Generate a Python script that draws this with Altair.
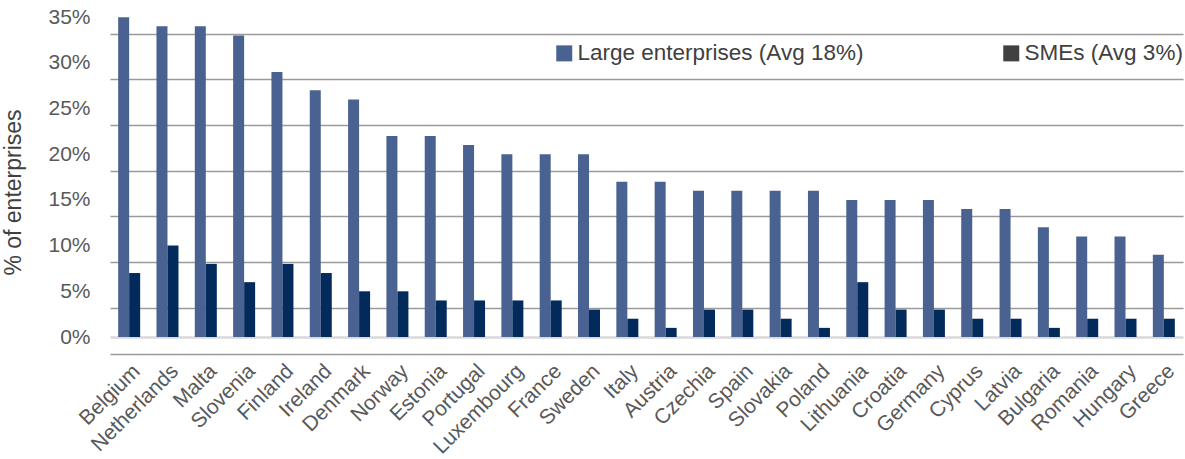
import altair as alt
import pandas as pd

countries = ["Belgium", "Netherlands", "Malta", "Slovenia", "Finland", "Ireland",
             "Denmark", "Norway", "Estonia", "Portugal", "Luxembourg", "France",
             "Sweden", "Italy", "Austria", "Czechia", "Spain", "Slovakia", "Poland",
             "Lithuania", "Croatia", "Germany", "Cyprus", "Latvia", "Bulgaria",
             "Romania", "Hungary", "Greece"]
large = [35, 34, 34, 33, 29, 27, 26, 22, 22, 21, 20, 20, 20, 17, 17, 16, 16, 16, 16,
         15, 15, 15, 14, 14, 12, 11, 11, 9]
smes = [7, 10, 8, 6, 8, 7, 5, 5, 4, 4, 4, 4, 3, 2, 1, 3, 3, 2, 1, 6, 3, 3, 2, 2, 1,
        2, 2, 2]
series = ["Large enterprises (Avg 18%)", "SMEs (Avg 3%)"]
y_ticks = [0, 0.05, 0.10, 0.15, 0.20, 0.25, 0.30, 0.35]

rows = []
for c, l, s in zip(countries, large, smes):
    rows.append({"country": c, "series": series[0], "value": l / 100})
    rows.append({"country": c, "series": series[1], "value": s / 100})
df = pd.DataFrame(rows)

FONT = "Liberation Sans"

x_enc = alt.X(
    "country:N", sort=countries, title=None,
    scale=alt.Scale(paddingInner=0.426, paddingOuter=0.213),
    axis=alt.Axis(labelAngle=-45, labelFontSize=21, labelColor="#595959",
                  labelPadding=23, domainColor="#d9d9d9", domainWidth=2.5,
                  ticks=False, labelFont=FONT),
)
y_enc = alt.Y(
    "value:Q",
    scale=alt.Scale(domain=[0, 0.36], nice=False),
    axis=alt.Axis(values=y_ticks, format=".0%", tickOffset=16.5, labelOffset=-16.5,
                  grid=True, gridColor="#9a9a9a", gridWidth=1.5, domain=False,
                  ticks=False, labelPadding=20, labelFontSize=21,
                  labelColor="#595959", labelFont=FONT,
                  title="% of enterprises", titleFontSize=23,
                  titleFontWeight="normal", titleColor="#404040",
                  titleFont=FONT, titlePadding=22, titleY=184),
)

bars = alt.Chart(df).mark_bar().encode(
    x=x_enc,
    xOffset=alt.XOffset("series:N", sort=series,
                        scale=alt.Scale(paddingInner=0, paddingOuter=0)),
    y=y_enc,
    color=alt.Color("series:N",
                    scale=alt.Scale(domain=series, range=["#4A6291", "#022B5B"]),
                    legend=None),
)

legend_layer = alt.Chart(df).transform_filter("false").mark_square().encode(
    x=alt.X("country:N", sort=countries),
    y=alt.Y("value:Q"),
    color=alt.Color("series:N",
                    scale=alt.Scale(domain=series, range=["#4A6291", "#404040"]),
                    legend=alt.Legend(title=None, orient="none", legendX=443, legendY=34,
                                      direction="horizontal", columns=2,
                                      symbolType="square", symbolSize=256,
                                      symbolOpacity=1, symbolStrokeWidth=0,
                                      labelFontSize=22.5, labelColor="#404040",
                                      labelFont=FONT, labelOffset=2,
                                      columnPadding=136, padding=0,
                                      labelLimit=400)),
)

chart = alt.layer(bars, legend_layer).resolve_scale(
    color="independent"
).resolve_legend(color="independent").properties(
    width=1073, height=329,
    padding={"left": 110, "top": 8, "right": 2, "bottom": 122},
    autosize=alt.AutoSizeParams(type="none"),
).configure(font=FONT).configure_view(stroke=None)

chart.save("out.html", embed_options={"renderer": "svg", "actions": False})
